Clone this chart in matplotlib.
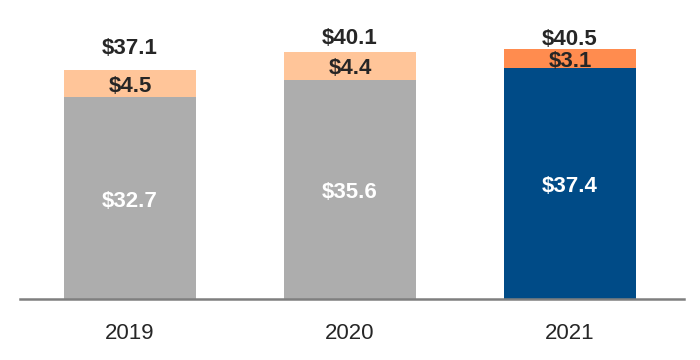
import matplotlib
matplotlib.use("Agg")
import matplotlib.pyplot as plt
from matplotlib.transforms import offset_copy

plt.rcParams['font.family'] = ['Liberation Sans', 'DejaVu Sans']

years = ["2019", "2020", "2021"]
base_vals = [32.7, 35.6, 37.4]
top_vals = [4.5, 4.4, 3.1]
totals = [37.1, 40.1, 40.5]

base_colors = ["#ADADAD", "#ADADAD", "#004B87"]
top_colors = ["#FFC599", "#FFC599", "#FF8C4F"]
total_offsets_px = [22, 13, 10]

fig = plt.figure(figsize=(7, 3.6), dpi=100)
ax = fig.add_axes([20/700, 61/360, 664/700, 299/360])
x = list(range(len(years)))
ax.bar(x, base_vals, width=0.6, color=base_colors, zorder=2)
ax.bar(x, top_vals, width=0.6, bottom=base_vals, color=top_colors, zorder=2)

ax.set_xlim(-0.5, 2.518)
ax.set_ylim(0, 48.5)

down = offset_copy(ax.transData, fig=fig, x=0, y=-3, units='dots')
for i in x:
    ax.text(i, base_vals[i] / 2, f"${base_vals[i]:.1f}", ha='center', va='center', transform=down,
            color='white', fontsize=16, fontweight='bold', zorder=3)
    ax.text(i, base_vals[i] + top_vals[i] / 2, f"${top_vals[i]:.1f}", ha='center', va='center',
            transform=down, color='#262626', fontsize=16, fontweight='bold', zorder=3)
    tr = offset_copy(ax.transData, fig=fig, x=0, y=total_offsets_px[i], units='dots')
    ax.text(i, totals[i], f"${totals[i]:.1f}", ha='center', va='center', transform=tr,
            color='#262626', fontsize=16, fontweight='bold', zorder=3)

for s in ['top', 'right', 'left']:
    ax.spines[s].set_visible(False)
ax.spines['bottom'].set_color('#7F7F7F')
ax.spines['bottom'].set_linewidth(1.8)
ax.set_yticks([])
ax.set_xticks(x)
ax.set_xticklabels(years, fontsize=16, color='#262626')
ax.tick_params(axis='x', length=0, pad=17)

fig.savefig("out.png", dpi=100)
